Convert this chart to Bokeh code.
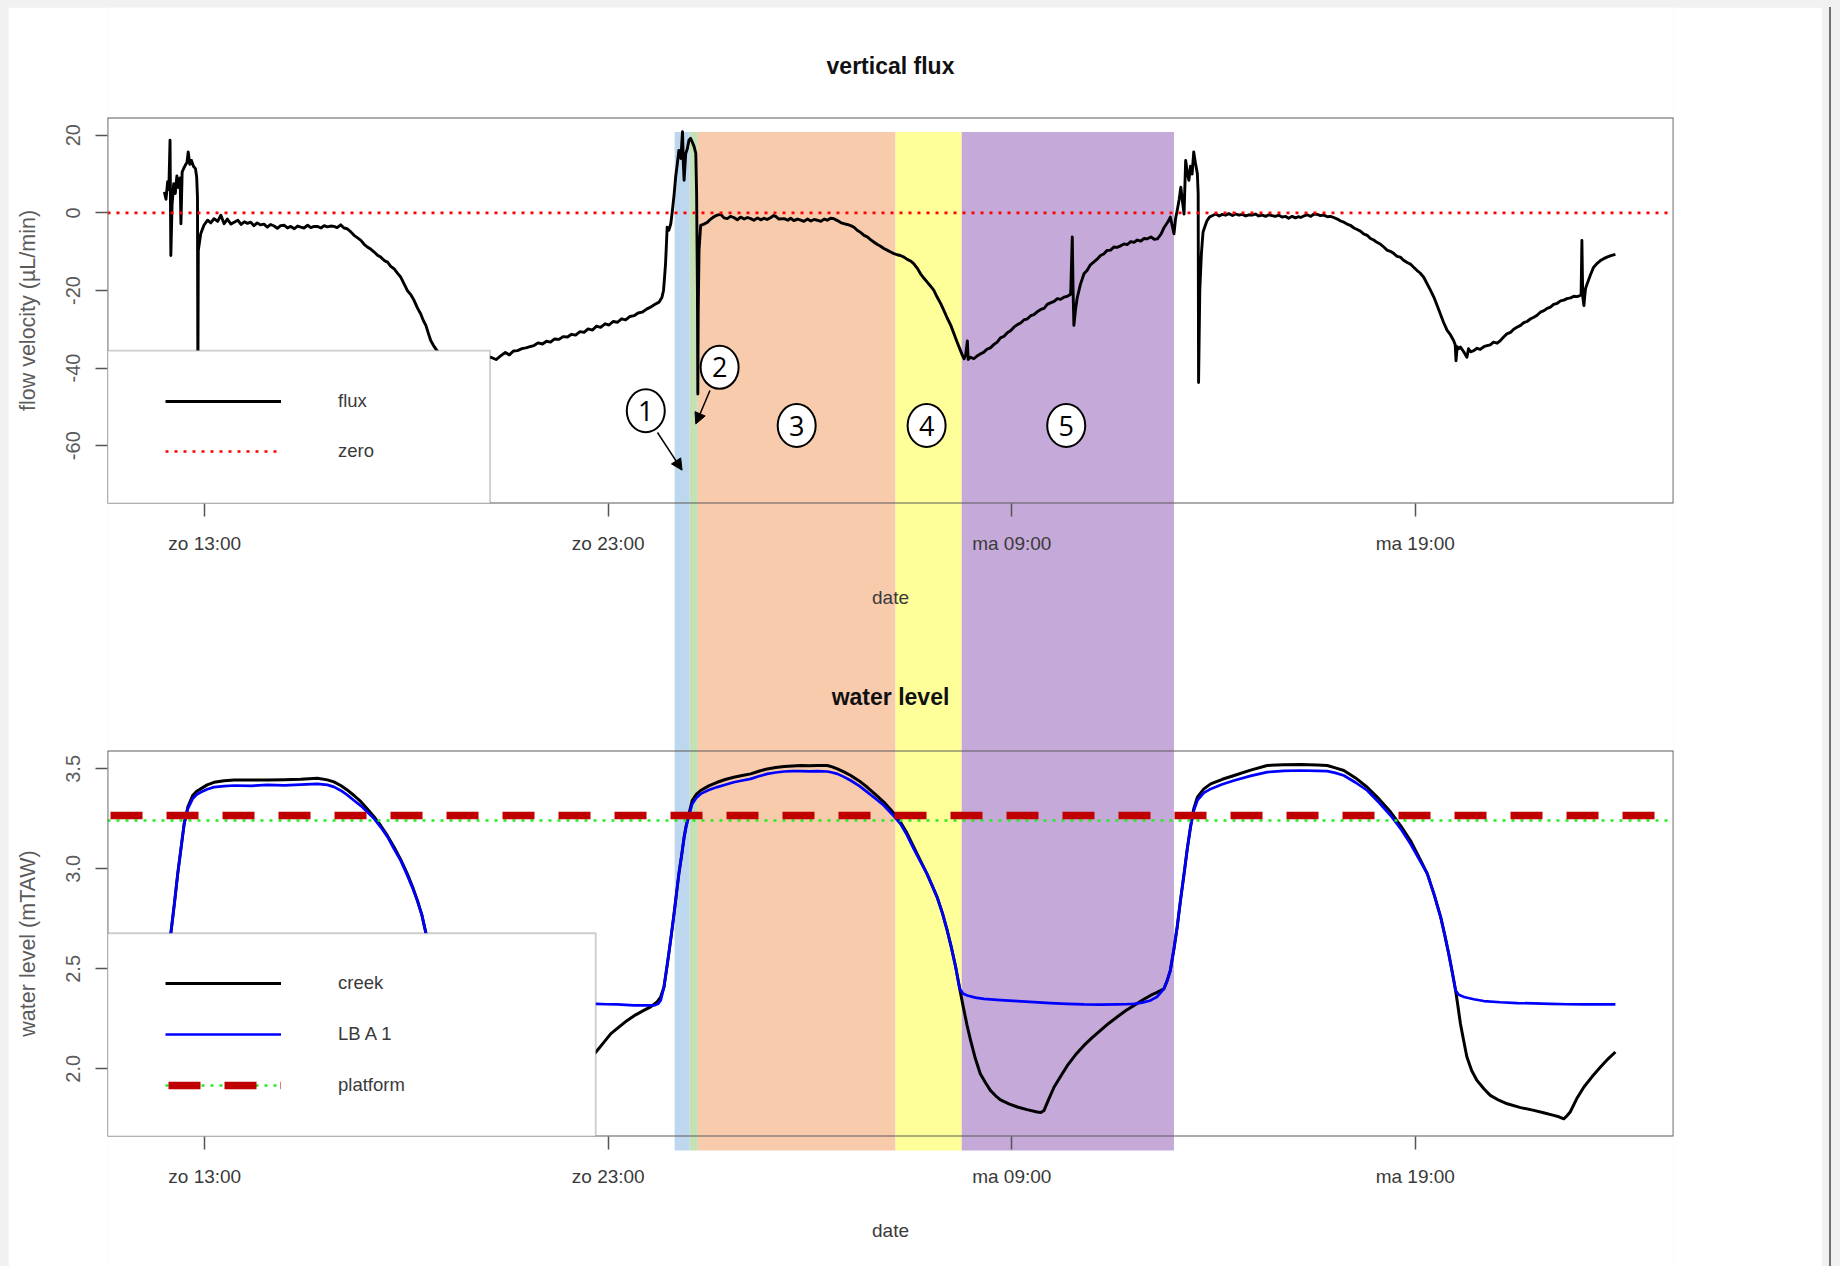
from bokeh.plotting import figure
from bokeh.models import (Range1d, FixedTicker, BoxAnnotation, Legend, LegendItem,
                          Arrow, NormalHead, ColumnDataSource, Spacer, GridBox)
from bokeh.layouts import row, column
from bokeh.embed import file_html
from bokeh.resources import INLINE
from bokeh.core.properties import value

FONT = "Liberation Sans"

# ---------------- data (hours since Sunday 00:00) ----------------
X_TICKS = [13, 23, 33, 43]
X_TICK_LABELS = ["zo 13:00", "zo 23:00", "ma 09:00", "ma 19:00"]
FLUX_TICKS = [-60, -40, -20, 0, 20]
FLUX_TICK_LABELS = ["-60", "-40", "-20", "0", "20"]
LEVEL_TICKS = [2.0, 2.5, 3.0, 3.5]
LEVEL_TICK_LABELS = ["2.0", "2.5", "3.0", "3.5"]

FLUX_HOURS = [
    12.00, 12.04, 12.08, 12.11, 12.14, 12.16, 12.19, 12.23, 12.27, 12.31,
    12.35, 12.39, 12.41, 12.44, 12.48, 12.52, 12.56, 12.59, 12.63, 12.67,
    12.72, 12.77, 12.80, 12.82, 12.83, 12.84, 12.90, 12.98, 13.07, 13.15,
    13.23, 13.32, 13.40, 13.48, 13.56, 13.65, 13.73, 13.82, 13.90, 13.98,
    14.06, 14.14, 14.22, 14.30, 14.38, 14.47, 14.55, 14.63, 14.72, 14.80,
    14.88, 14.97, 15.05, 15.13, 15.22, 15.30, 15.38, 15.46, 15.55, 15.63,
    15.71, 15.79, 15.88, 15.96, 16.04, 16.12, 16.20, 16.28, 16.37, 16.45,
    16.53, 16.62, 16.70, 16.78, 16.87, 16.95, 17.03, 17.12, 17.20, 17.28,
    17.36, 17.45, 17.53, 17.61, 17.69, 17.78, 17.86, 17.94, 18.02, 18.10,
    18.19, 18.27, 18.35, 18.42, 18.48, 18.54, 18.60, 18.67, 18.73, 18.85,
    19.05, 19.30, 19.55, 19.80, 20.09, 20.22, 20.34, 20.45, 20.55, 20.65,
    20.75, 20.86, 20.96, 21.06, 21.16, 21.26, 21.37, 21.47, 21.57, 21.67,
    21.78, 21.88, 21.99, 22.09, 22.19, 22.30, 22.40, 22.50, 22.61, 22.71,
    22.81, 22.92, 23.02, 23.12, 23.23, 23.33, 23.43, 23.54, 23.64, 23.74,
    23.84, 23.95, 24.05, 24.15, 24.26, 24.33, 24.37, 24.40, 24.42, 24.44,
    24.46, 24.50, 24.55, 24.59, 24.63, 24.67, 24.71, 24.75, 24.80, 24.84,
    24.86, 24.88, 24.92, 24.96, 25.00, 25.04, 25.08, 25.13, 25.17, 25.19,
    25.21, 25.22, 25.23, 25.25, 25.29, 25.37, 25.46, 25.54, 25.62, 25.70,
    25.79, 25.87, 25.95, 26.03, 26.11, 26.20, 26.28, 26.37, 26.45, 26.53,
    26.61, 26.70, 26.78, 26.86, 26.94, 27.03, 27.10, 27.15, 27.23, 27.36,
    27.45, 27.52, 27.60, 27.69, 27.77, 27.85, 27.94, 28.02, 28.10, 28.18,
    28.27, 28.35, 28.43, 28.51, 28.59, 28.68, 28.76, 28.84, 28.92, 29.01,
    29.09, 29.17, 29.26, 29.34, 29.42, 29.50, 29.58, 29.66, 29.75, 29.83,
    29.91, 30.00, 30.08, 30.16, 30.24, 30.33, 30.41, 30.49, 30.57, 30.66,
    30.74, 30.82, 30.90, 30.99, 31.07, 31.15, 31.24, 31.32, 31.40, 31.49,
    31.57, 31.65, 31.73, 31.78, 31.82, 31.86, 31.90, 31.92, 31.98, 32.06,
    32.15, 32.23, 32.31, 32.39, 32.47, 32.56, 32.64, 32.72, 32.81, 32.89,
    32.97, 33.06, 33.14, 33.22, 33.30, 33.39, 33.47, 33.55, 33.63, 33.72,
    33.80, 33.88, 33.96, 34.05, 34.13, 34.21, 34.30, 34.38, 34.46, 34.50,
    34.52, 34.54, 34.58, 34.62, 34.70, 34.79, 34.87, 34.95, 35.03, 35.11,
    35.20, 35.28, 35.36, 35.45, 35.53, 35.61, 35.70, 35.78, 35.86, 35.95,
    36.03, 36.11, 36.20, 36.28, 36.36, 36.45, 36.53, 36.61, 36.70, 36.78,
    36.86, 36.93, 36.97, 37.02, 37.06, 37.10, 37.15, 37.19, 37.23, 37.27,
    37.31, 37.35, 37.39, 37.43, 37.47, 37.51, 37.55, 37.60, 37.62, 37.63,
    37.66, 37.70, 37.74, 37.78, 37.84, 37.90, 37.98, 38.06, 38.14, 38.22,
    38.30, 38.38, 38.47, 38.55, 38.63, 38.71, 38.80, 38.88, 38.96, 39.04,
    39.12, 39.21, 39.29, 39.37, 39.45, 39.53, 39.62, 39.70, 39.78, 39.86,
    39.95, 40.03, 40.11, 40.16, 40.24, 40.32, 40.41, 40.49, 40.57, 40.65,
    40.74, 40.82, 40.90, 40.98, 41.07, 41.15, 41.23, 41.31, 41.39, 41.48,
    41.56, 41.64, 41.72, 41.81, 41.89, 41.97, 42.05, 42.14, 42.22, 42.30,
    42.38, 42.47, 42.55, 42.63, 42.71, 42.80, 42.88, 42.96, 43.04, 43.12,
    43.21, 43.29, 43.37, 43.46, 43.54, 43.62, 43.70, 43.79, 43.87, 43.95,
    43.99, 44.01, 44.04, 44.08, 44.12, 44.20, 44.28, 44.32, 44.37, 44.45,
    44.53, 44.61, 44.70, 44.78, 44.86, 44.94, 45.03, 45.11, 45.19, 45.27,
    45.36, 45.44, 45.52, 45.61, 45.69, 45.77, 45.86, 45.94, 46.02, 46.10,
    46.19, 46.27, 46.35, 46.43, 46.52, 46.60, 46.68, 46.76, 46.85, 46.93,
    47.01, 47.09, 47.11, 47.13, 47.15, 47.18, 47.20, 47.22, 47.26, 47.34,
    47.42, 47.50, 47.59, 47.67, 47.75, 47.85, 47.96,
]
FLUX_VALUES = [
    5.4, 3.5, 8.0, 6.0, 18.7, -11.0, 2.0, 7.5, 5.0, 9.5,
    6.5, 9.0, -2.8, 10.5, 11.5, 12.3, 13.0, 15.7, 12.5, 13.5,
    12.0, 11.4, 9.2, 4.0, -45.0, -9.7, -5.4, -3.2, -1.9, -2.6,
    -1.5, -2.2, -0.6, -2.8, -1.6, -2.9, -2.4, -1.9, -3.0, -2.3,
    -2.7, -2.4, -3.3, -2.6, -3.1, -2.9, -3.7, -3.0, -3.4, -4.0,
    -3.3, -3.2, -3.9, -3.5, -4.1, -3.4, -3.7, -3.9, -3.2, -3.8,
    -3.5, -3.5, -3.9, -3.3, -3.6, -3.4, -3.5, -3.8, -3.1, -3.9,
    -4.1, -4.9, -5.8, -6.4, -7.1, -8.1, -8.8, -9.4, -10.1, -10.9,
    -11.4, -12.3, -12.7, -13.8, -14.4, -15.6, -16.6, -18.3, -20.0, -21.0,
    -22.6, -24.5, -26.0, -27.8, -29.0, -31.0, -32.9, -34.2, -35.1, -37.0,
    -38.3, -38.8, -39.3, -38.2, -37.2, -37.8, -36.8, -36.0, -36.6, -35.6,
    -35.5, -35.0, -34.8, -34.5, -34.2, -33.5, -33.8, -33.1, -33.3, -32.5,
    -32.6, -31.9, -32.0, -31.3, -31.5, -30.6, -30.8, -29.9, -30.2, -29.2,
    -29.5, -28.6, -28.9, -28.0, -28.2, -27.3, -27.6, -26.7, -26.5, -25.8,
    -25.6, -24.8, -24.3, -23.6, -23.0, -21.8, -20.0, -16.0, -13.1, -8.5,
    -3.7, -4.5, -2.8, 0.6, 4.5, 9.2, 12.5, 16.1, 14.0, 20.9,
    13.0, 8.4, 15.3, 16.5, 18.7, 19.2, 18.3, 17.0, 15.3, 5.0,
    -20.0, -46.7, -25.0, -9.7, -3.2, -2.9, -2.4, -1.6, -1.0, -0.6,
    -0.4, -1.3, -1.5, -0.9, -1.2, -1.8, -1.1, -1.6, -1.2, -1.5,
    -1.9, -1.3, -1.8, -1.4, -1.7, -1.2, -0.7, -0.9, -1.6, -1.5,
    -1.9, -1.4, -2.0, -1.6, -1.9, -2.2, -1.6, -2.1, -1.7, -1.9,
    -2.2, -1.6, -1.9, -1.4, -1.5, -2.0, -2.5, -2.8, -3.0, -3.3,
    -3.7, -4.5, -5.1, -5.8, -6.2, -6.9, -7.5, -8.1, -8.6, -9.2,
    -9.6, -10.1, -10.5, -10.8, -11.0, -11.4, -12.0, -12.4, -13.1, -14.3,
    -15.7, -16.8, -17.8, -18.9, -20.0, -21.7, -23.4, -25.2, -27.1, -29.0,
    -31.2, -33.4, -35.5, -36.8, -37.6, -36.5, -33.0, -37.8, -37.2, -37.6,
    -36.8, -36.3, -35.9, -35.1, -34.8, -33.9, -33.3, -32.2, -31.8, -30.9,
    -30.4, -29.4, -28.8, -28.4, -27.6, -27.3, -26.5, -26.2, -25.5, -24.9,
    -24.6, -23.6, -23.2, -22.8, -22.1, -22.3, -21.7, -21.5, -21.0, -6.2,
    -20.0, -29.0, -25.0, -22.0, -18.5, -15.7, -14.8, -13.4, -12.7, -12.0,
    -11.0, -10.6, -9.7, -9.6, -8.8, -8.9, -8.5, -8.0, -8.2, -7.4,
    -7.6, -7.0, -7.3, -6.6, -6.7, -6.2, -6.8, -6.7, -5.5, -3.7,
    -2.5, -1.1, -3.0, -5.4, -1.5, 0.6, 3.5, 6.6, 3.0, -0.3,
    13.5, 10.5, 8.4, 12.0, 10.0, 15.7, 13.0, 10.1, 5.0, -43.7,
    -20.0, -10.5, -5.0, -3.7, -2.0, -1.1, -0.7, -0.3, -0.8, -0.4,
    -0.6, -0.2, -0.7, -0.3, -0.6, -0.4, -0.8, -0.5, -0.6, -0.3,
    -0.8, -0.6, -0.9, -0.5, -0.7, -0.9, -0.6, -1.1, -0.9, -1.4,
    -0.9, -1.3, -1.0, -1.2, -0.8, -0.5, -0.9, -0.3, -0.4, -0.7,
    -0.6, -1.0, -0.9, -1.2, -1.6, -2.1, -2.4, -2.9, -3.2, -3.9,
    -4.3, -4.7, -5.4, -5.8, -6.6, -7.0, -7.6, -8.1, -8.8, -9.6,
    -9.9, -10.5, -11.2, -11.4, -12.2, -12.8, -13.2, -14.0, -14.8, -15.5,
    -16.6, -18.2, -19.8, -21.7, -23.8, -26.0, -28.2, -30.3, -31.4, -32.9,
    -34.0, -38.1, -34.5, -35.0, -34.6, -35.8, -37.2, -35.0, -35.8, -35.5,
    -34.9, -35.2, -34.5, -34.2, -34.0, -33.3, -33.6, -32.9, -32.0, -31.2,
    -30.8, -30.0, -29.5, -29.0, -28.3, -28.0, -27.3, -26.9, -26.4, -25.6,
    -25.2, -24.6, -24.3, -23.6, -23.3, -22.7, -22.5, -22.1, -21.9, -21.5,
    -21.6, -21.3, -21.0, -7.1, -21.5, -23.9, -21.5, -19.5, -18.3, -16.0,
    -14.0, -13.1, -12.3, -11.8, -11.4, -11.0, -10.7,
]

CREEK_HOURS = [
    12.00, 12.08, 12.16, 12.25, 12.33, 12.41, 12.49, 12.58, 12.70, 12.80,
    12.90, 13.06, 13.23, 13.48, 13.73, 14.14, 14.55, 14.97, 15.38, 15.79,
    16.04, 16.20, 16.37, 16.53, 16.70, 16.87, 17.03, 17.20, 17.36, 17.53,
    17.69, 17.86, 18.02, 18.15, 18.27, 18.38, 18.48, 18.60, 18.75, 18.95,
    19.20, 19.50, 19.80, 20.20, 20.60, 20.90, 21.20, 21.50, 22.00, 22.40,
    22.69, 22.88, 23.06, 23.27, 23.47, 23.68, 23.88, 24.05, 24.21, 24.30,
    24.38, 24.44, 24.50, 24.57, 24.63, 24.69, 24.75, 24.82, 24.88, 24.93,
    24.98, 25.08, 25.18, 25.29, 25.49, 25.70, 25.90, 26.11, 26.32, 26.53,
    26.73, 26.94, 27.15, 27.36, 27.57, 27.77, 27.98, 28.18, 28.43, 28.55,
    28.68, 28.84, 29.01, 29.22, 29.42, 29.62, 29.83, 30.04, 30.24, 30.40,
    30.57, 30.74, 30.90, 31.02, 31.15, 31.28, 31.40, 31.50, 31.61, 31.71,
    31.80, 31.89, 31.98, 32.10, 32.22, 32.35, 32.47, 32.60, 32.72, 32.93,
    33.14, 33.38, 33.63, 33.72, 33.80, 33.92, 34.05, 34.22, 34.38, 34.58,
    34.79, 35.00, 35.20, 35.40, 35.61, 35.82, 36.03, 36.23, 36.44, 36.60,
    36.77, 36.85, 36.93, 37.02, 37.10, 37.18, 37.27, 37.35, 37.43, 37.51,
    37.60, 37.76, 37.93, 38.22, 38.51, 38.92, 39.33, 39.74, 40.16, 40.57,
    40.82, 41.02, 41.23, 41.52, 41.81, 42.10, 42.39, 42.64, 42.88, 43.09,
    43.30, 43.47, 43.63, 43.73, 43.83, 43.92, 44.00, 44.06, 44.12, 44.20,
    44.28, 44.40, 44.53, 44.70, 44.86, 45.07, 45.28, 45.61, 45.94, 46.18,
    46.43, 46.56, 46.68, 46.76, 46.84, 47.00, 47.18, 47.38, 47.59, 47.78,
    47.96,
]
CREEK_LEVEL = [
    2.40, 2.53, 2.678, 2.83, 2.975, 3.10, 3.225, 3.309, 3.367, 3.388,
    3.40, 3.42, 3.433, 3.441, 3.445, 3.444, 3.445, 3.446, 3.448, 3.453,
    3.445, 3.435, 3.417, 3.395, 3.367, 3.336, 3.30, 3.26, 3.217, 3.165,
    3.109, 3.045, 2.975, 2.91, 2.842, 2.77, 2.68, 2.57, 2.42, 2.20,
    2.02, 1.93, 1.88, 1.85, 1.82, 1.80, 1.79, 1.86, 1.97, 2.04,
    2.083, 2.13, 2.175, 2.21, 2.242, 2.27, 2.292, 2.31, 2.334, 2.36,
    2.408, 2.49, 2.575, 2.68, 2.775, 2.875, 2.975, 3.07, 3.158, 3.215,
    3.258, 3.342, 3.372, 3.392, 3.415, 3.433, 3.447, 3.458, 3.467, 3.475,
    3.488, 3.50, 3.507, 3.512, 3.515, 3.517, 3.516, 3.517, 3.517, 3.51,
    3.50, 3.485, 3.467, 3.44, 3.408, 3.373, 3.334, 3.287, 3.234, 3.18,
    3.11, 3.04, 2.975, 2.92, 2.859, 2.78, 2.692, 2.61, 2.509, 2.40,
    2.308, 2.22, 2.142, 2.05, 1.975, 1.93, 1.892, 1.865, 1.845, 1.825,
    1.809, 1.796, 1.784, 1.782, 1.792, 1.85, 1.909, 1.965, 2.017, 2.07,
    2.117, 2.157, 2.192, 2.227, 2.259, 2.29, 2.317, 2.343, 2.367, 2.382,
    2.40, 2.44, 2.492, 2.60, 2.709, 2.84, 2.975, 3.10, 3.209, 3.30,
    3.359, 3.40, 3.425, 3.448, 3.467, 3.494, 3.517, 3.521, 3.522, 3.52,
    3.517, 3.505, 3.492, 3.455, 3.408, 3.35, 3.284, 3.215, 3.142, 3.06,
    2.975, 2.87, 2.759, 2.67, 2.575, 2.48, 2.392, 2.31, 2.225, 2.14,
    2.059, 1.99, 1.942, 1.90, 1.867, 1.843, 1.825, 1.806, 1.792, 1.78,
    1.767, 1.76, 1.75, 1.765, 1.784, 1.85, 1.909, 1.96, 2.009, 2.05,
    2.084,
]

LBA1_HOURS = [
    12.00, 12.08, 12.16, 12.25, 12.33, 12.41, 12.49, 12.58, 12.70, 12.80,
    12.90, 13.06, 13.23, 13.48, 13.73, 14.14, 14.55, 14.97, 15.38, 15.79,
    16.04, 16.20, 16.37, 16.53, 16.70, 16.87, 17.03, 17.20, 17.36, 17.53,
    17.69, 17.86, 18.02, 18.15, 18.27, 18.38, 18.48, 18.60, 18.72, 18.85,
    19.00, 19.40, 19.90, 20.50, 21.10, 21.70, 22.20, 22.69, 22.95, 23.22,
    23.43, 23.64, 23.90, 24.13, 24.24, 24.30, 24.38, 24.44, 24.50, 24.57,
    24.63, 24.69, 24.75, 24.82, 24.88, 24.93, 24.98, 25.08, 25.18, 25.29,
    25.49, 25.70, 25.90, 26.11, 26.32, 26.53, 26.73, 26.94, 27.15, 27.36,
    27.57, 27.77, 27.98, 28.18, 28.43, 28.55, 28.68, 28.84, 29.01, 29.22,
    29.42, 29.62, 29.83, 30.04, 30.24, 30.40, 30.57, 30.74, 30.90, 31.02,
    31.15, 31.28, 31.40, 31.50, 31.61, 31.71, 31.80, 31.90, 32.10, 32.31,
    32.72, 33.14, 33.55, 33.96, 34.38, 34.79, 35.20, 35.61, 35.82, 36.03,
    36.23, 36.44, 36.60, 36.77, 36.85, 36.93, 37.02, 37.10, 37.18, 37.27,
    37.35, 37.43, 37.51, 37.60, 37.76, 37.93, 38.22, 38.51, 38.92, 39.33,
    39.74, 40.16, 40.57, 40.82, 41.02, 41.23, 41.52, 41.81, 42.10, 42.39,
    42.64, 42.88, 43.09, 43.30, 43.47, 43.63, 43.73, 43.83, 43.92, 44.00,
    44.08, 44.21, 44.45, 44.70, 45.11, 45.53, 45.94, 46.35, 46.76, 47.18,
    47.57, 47.96,
]
LBA1_LEVEL = [
    2.40, 2.53, 2.678, 2.83, 2.975, 3.10, 3.225, 3.30, 3.35, 3.372,
    3.383, 3.398, 3.409, 3.414, 3.417, 3.415, 3.42, 3.418, 3.421, 3.425,
    3.42, 3.41, 3.392, 3.37, 3.342, 3.315, 3.284, 3.25, 3.209, 3.16,
    3.10, 3.04, 2.967, 2.905, 2.84, 2.77, 2.68, 2.57, 2.45, 2.38,
    2.355, 2.34, 2.335, 2.33, 2.328, 2.326, 2.325, 2.325, 2.323, 2.322,
    2.32, 2.317, 2.318, 2.317, 2.325, 2.342, 2.408, 2.49, 2.575, 2.68,
    2.775, 2.875, 2.975, 3.07, 3.158, 3.21, 3.25, 3.325, 3.355, 3.375,
    3.394, 3.409, 3.421, 3.433, 3.442, 3.45, 3.463, 3.475, 3.482, 3.487,
    3.489, 3.489, 3.488, 3.489, 3.487, 3.482, 3.475, 3.46, 3.442, 3.415,
    3.384, 3.352, 3.317, 3.272, 3.225, 3.17, 3.10, 3.035, 2.975, 2.92,
    2.859, 2.78, 2.692, 2.61, 2.509, 2.40, 2.375, 2.367, 2.356, 2.35,
    2.344, 2.339, 2.334, 2.329, 2.325, 2.322, 2.321, 2.322, 2.323, 2.325,
    2.331, 2.342, 2.36, 2.40, 2.44, 2.492, 2.60, 2.709, 2.84, 2.975,
    3.10, 3.209, 3.29, 3.342, 3.38, 3.40, 3.423, 3.442, 3.465, 3.484,
    3.49, 3.492, 3.49, 3.489, 3.48, 3.467, 3.432, 3.392, 3.332, 3.267,
    3.20, 3.125, 3.05, 2.975, 2.87, 2.759, 2.67, 2.575, 2.48, 2.392,
    2.37, 2.359, 2.348, 2.339, 2.333, 2.329, 2.327, 2.325, 2.323, 2.322,
    2.322, 2.322,
]

assert len(FLUX_HOURS) == len(FLUX_VALUES), (len(FLUX_HOURS), len(FLUX_VALUES))
assert len(CREEK_HOURS) == len(CREEK_LEVEL), (len(CREEK_HOURS), len(CREEK_LEVEL))
assert len(LBA1_HOURS) == len(LBA1_LEVEL), (len(LBA1_HOURS), len(LBA1_LEVEL))

ZERO_LEVEL = 0.0
PLATFORM_MAIN = 3.267
PLATFORM_ALT = 3.242

# phases (coloured bands spanning both panels)
PHASE_START = [24.645, 25.02, 25.22, 30.12, 31.76]
PHASE_END = [25.02, 25.22, 30.12, 31.76, 37.02]
PHASE_COLORS = ["#bdd7ee", "#c5e0b4", "#f8cbad", "#ffff99", "#c5a9d9"]
PHASE_TOP_FLUX = 20.85      # top of bands, in flux units (upper panel)
PHASE_BOTTOM_LEVEL = 1.592  # bottom of bands, in water-level units (lower panel)

PHASE_LABELS = ["1", "2", "3", "4", "5"]
PHASE_LABEL_X = [23.93, 25.76, 27.67, 30.89, 34.35]
PHASE_LABEL_Y = [-51.0, -39.8, -54.8, -54.8, -54.8]
ARROW_X0 = [24.22, 25.52]
ARROW_Y0 = [-56.6, -45.8]
ARROW_X1 = [24.83, 25.17]
ARROW_Y1 = [-66.3, -54.4]

X_MIN, X_MAX = 10.59, 49.40
FLUX_MIN, FLUX_MAX = -74.9, 24.57
LEVEL_MIN, LEVEL_MAX = 1.6615, 3.592

# legend boxes (data coords of upper-right corner)
FLUX_LEGEND_RIGHT, FLUX_LEGEND_TOP = 20.07, -35.48
LEVEL_LEGEND_RIGHT, LEVEL_LEGEND_TOP = 22.69, 2.678

# ---------------- geometry ----------------
BORDER_L, BORDER_R = 99, 149
FRAME_W = 1566
FIG_W = BORDER_L + FRAME_W + BORDER_R
H1, TOP1, BOT1 = 628, 110, 132
H2, TOP2, BOT2 = 631, 115, 130

x_range = Range1d(X_MIN, X_MAX)


def make_fig(height, y_range, top_border, bottom_border, title_text, ylabel,
             yticks, yticklabels, title_standoff):
    p = figure(width=FIG_W, height=height, x_range=x_range, y_range=y_range,
               output_backend="svg", toolbar_location=None, tools="",
               min_border_left=BORDER_L, min_border_right=BORDER_R,
               min_border_top=top_border, min_border_bottom=bottom_border,
               background_fill_alpha=0, border_fill_alpha=0,
               outline_line_color=None)
    p.title.text = title_text
    p.title.align = "center"
    p.title.text_font = FONT
    p.title.text_font_size = "23px"
    p.title.text_font_style = "bold"
    p.title.text_color = "#111111"
    p.title.standoff = title_standoff
    p.grid.visible = False

    xa = p.xaxis[0]
    xa.ticker = FixedTicker(ticks=X_TICKS)
    xa.major_label_overrides = dict(zip(X_TICKS, X_TICK_LABELS))
    xa.minor_tick_line_color = None
    xa.major_tick_in = 0
    xa.major_tick_out = 13
    xa.major_tick_line_color = "#555555"
    xa.major_tick_line_width = 1.5
    xa.axis_line_color = None
    xa.major_label_text_font = FONT
    xa.major_label_text_font_size = "19px"
    xa.major_label_text_color = "#3a3a3a"
    xa.major_label_standoff = 16
    xa.axis_label = "date"
    xa.axis_label_text_font = FONT
    xa.axis_label_text_font_size = "19px"
    xa.axis_label_text_font_style = "normal"
    xa.axis_label_text_color = "#3a3a3a"
    xa.axis_label_standoff = 30

    ya = p.yaxis[0]
    ya.ticker = FixedTicker(ticks=yticks)
    ya.major_label_overrides = dict(zip(yticks, yticklabels))
    ya.minor_tick_line_color = None
    ya.major_tick_in = 0
    ya.major_tick_out = 12
    ya.major_tick_line_color = "#555555"
    ya.major_tick_line_width = 1.5
    ya.axis_line_color = None
    ya.major_label_orientation = "vertical"
    ya.major_label_text_font = FONT
    ya.major_label_text_font_size = "20px"
    ya.major_label_text_color = "#5a5a5a"
    ya.major_label_standoff = 15
    ya.axis_label = ylabel
    ya.axis_label_text_font = FONT
    ya.axis_label_text_font_size = "21.5px"
    ya.axis_label_text_font_style = "normal"
    ya.axis_label_text_color = "#5a5a5a"
    ya.axis_label_standoff = 24
    return p


def add_frame(p, ymin, ymax):
    p.add_layout(BoxAnnotation(left=X_MIN, right=X_MAX, bottom=ymin, top=ymax,
                               fill_color=None, fill_alpha=0,
                               line_color="#5a5a5a", line_width=1.8,
                               line_alpha=1.0, level="overlay"))


def add_legend(p, items, ymin, right, top, loc_y, spacing):
    p.add_layout(BoxAnnotation(left=X_MIN, right=right, bottom=ymin, top=top,
                               fill_color="white", fill_alpha=1.0,
                               line_color="#5a5a5a", line_width=1.8,
                               level="overlay"))
    leg = Legend(items=items, location=(0, loc_y), orientation="vertical",
                 glyph_width=116, glyph_height=30, label_height=30,
                 label_width=80, label_standoff=57, padding=58,
                 spacing=spacing, margin=0,
                 border_line_alpha=0, background_fill_alpha=0,
                 label_text_font=FONT, label_text_font_size="18.5px",
                 label_text_color="#3a3a3a", level="overlay")
    p.add_layout(leg)


# ---------------- background figure: the phase bands ----------------
# Its vertical axis uses the flux units of the upper panel, continued
# down over the whole page so that the bands can cross both panels.
ppu_flux = (H1 - TOP1 - BOT1) / (FLUX_MAX - FLUX_MIN)
ppu_level = (H2 - TOP2 - BOT2) / (LEVEL_MAX - LEVEL_MIN)
TOTAL_H = H1 + H2
band_bottom_px = H1 + TOP2 + (LEVEL_MAX - PHASE_BOTTOM_LEVEL) * ppu_level
band_y_top = FLUX_MAX + TOP1 / ppu_flux
band_y_bottom = FLUX_MAX - (TOTAL_H - TOP1) / ppu_flux
phase_bottom_flux_units = FLUX_MAX - (band_bottom_px - TOP1) / ppu_flux

pb = figure(width=FIG_W, height=TOTAL_H, x_range=x_range,
            y_range=Range1d(band_y_bottom, band_y_top),
            output_backend="svg", toolbar_location=None, tools="",
            x_axis_location=None, y_axis_location=None,
            min_border_left=BORDER_L, min_border_right=BORDER_R,
            min_border_top=0, min_border_bottom=0,
            background_fill_color="white", border_fill_color="white",
            outline_line_color=None)
pb.grid.visible = False
pb.quad(left=PHASE_START, right=PHASE_END,
        top=[PHASE_TOP_FLUX] * len(PHASE_START),
        bottom=[phase_bottom_flux_units] * len(PHASE_START),
        fill_color=PHASE_COLORS, line_color=None)

# ---------------- top: vertical flux ----------------
y1 = Range1d(FLUX_MIN, FLUX_MAX)
p1 = make_fig(H1, y1, TOP1, BOT1, "vertical flux", "flow velocity (\u00b5L/min)",
              FLUX_TICKS, FLUX_TICK_LABELS, 78)

flux_r = p1.line(FLUX_HOURS, FLUX_VALUES, line_color="black", line_width=2.9,
                 line_join="round")
zero_r = p1.line([X_MIN, X_MAX], [ZERO_LEVEL, ZERO_LEVEL], line_color="#ff0000",
                 line_width=2.6, line_dash="3 6")

lab_src = ColumnDataSource(dict(x=PHASE_LABEL_X, y=PHASE_LABEL_Y, t=PHASE_LABELS))
p1.ellipse(x="x", y="y", width=38, height=43, width_units="screen",
           height_units="screen", fill_color="white", line_color="black",
           line_width=2, source=lab_src)
p1.text(x="x", y="y", text="t", source=lab_src, text_font=value("Open Sans"),
        text_font_size=value("27px"), text_align="center",
        text_baseline="middle", text_color="black")
arr_src = ColumnDataSource(dict(x0=ARROW_X0, y0=ARROW_Y0, x1=ARROW_X1, y1=ARROW_Y1))
p1.add_layout(Arrow(x_start="x0", y_start="y0", x_end="x1", y_end="y1",
                    source=arr_src, line_width=1.5, line_color="black",
                    end=NormalHead(size=11, fill_color="black", line_color="black")))

add_frame(p1, FLUX_MIN, FLUX_MAX)
add_legend(p1, [LegendItem(label="flux", renderers=[flux_r]),
                LegendItem(label="zero", renderers=[zero_r])],
           FLUX_MIN, FLUX_LEGEND_RIGHT, FLUX_LEGEND_TOP, -21, 20)

# ---------------- bottom: water level ----------------
y2 = Range1d(LEVEL_MIN, LEVEL_MAX)
p2 = make_fig(H2, y2, TOP2, BOT2, "water level", "water level (mTAW)",
              LEVEL_TICKS, LEVEL_TICK_LABELS, 82)

creek_r = p2.line(CREEK_HOURS, CREEK_LEVEL, line_color="black", line_width=3.0,
                  line_join="round")
lba_r = p2.line(LBA1_HOURS, LBA1_LEVEL, line_color="#0000ff", line_width=2.7,
                line_join="round")
plat_alt = p2.line([X_MIN, X_MAX], [PLATFORM_ALT, PLATFORM_ALT],
                   line_color="#22ee22", line_width=2.6, line_dash="3 6")
plat_main = p2.line([X_MIN, X_MAX], [PLATFORM_MAIN, PLATFORM_MAIN],
                    line_color="#c00000", line_width=7.5, line_dash="32 24",
                    line_dash_offset=-3)

add_frame(p2, LEVEL_MIN, LEVEL_MAX)
add_legend(p2, [LegendItem(label="creek", renderers=[creek_r]),
                LegendItem(label="LB A 1", renderers=[lba_r]),
                LegendItem(label="platform", renderers=[plat_alt, plat_main])],
           LEVEL_MIN, LEVEL_LEGEND_RIGHT, LEVEL_LEGEND_TOP, -22, 21)

charts = GridBox(children=[(column(pb), 0, 0, 2, 1), (p1, 0, 0), (p2, 1, 0)],
                 spacing=0, margin=(7, 0, 0, 1822 - FIG_W))
edge = Spacer(width=2, height=TOTAL_H, margin=(7, 0, 0, 7),
              styles={"background-color": "#707070"})
page = row(charts, edge, width=1840, height=1266,
           styles={"background-color": "#f1f1f1"})

open("out.html", "w").write(file_html(page, INLINE, "vertical flux / water level"))
